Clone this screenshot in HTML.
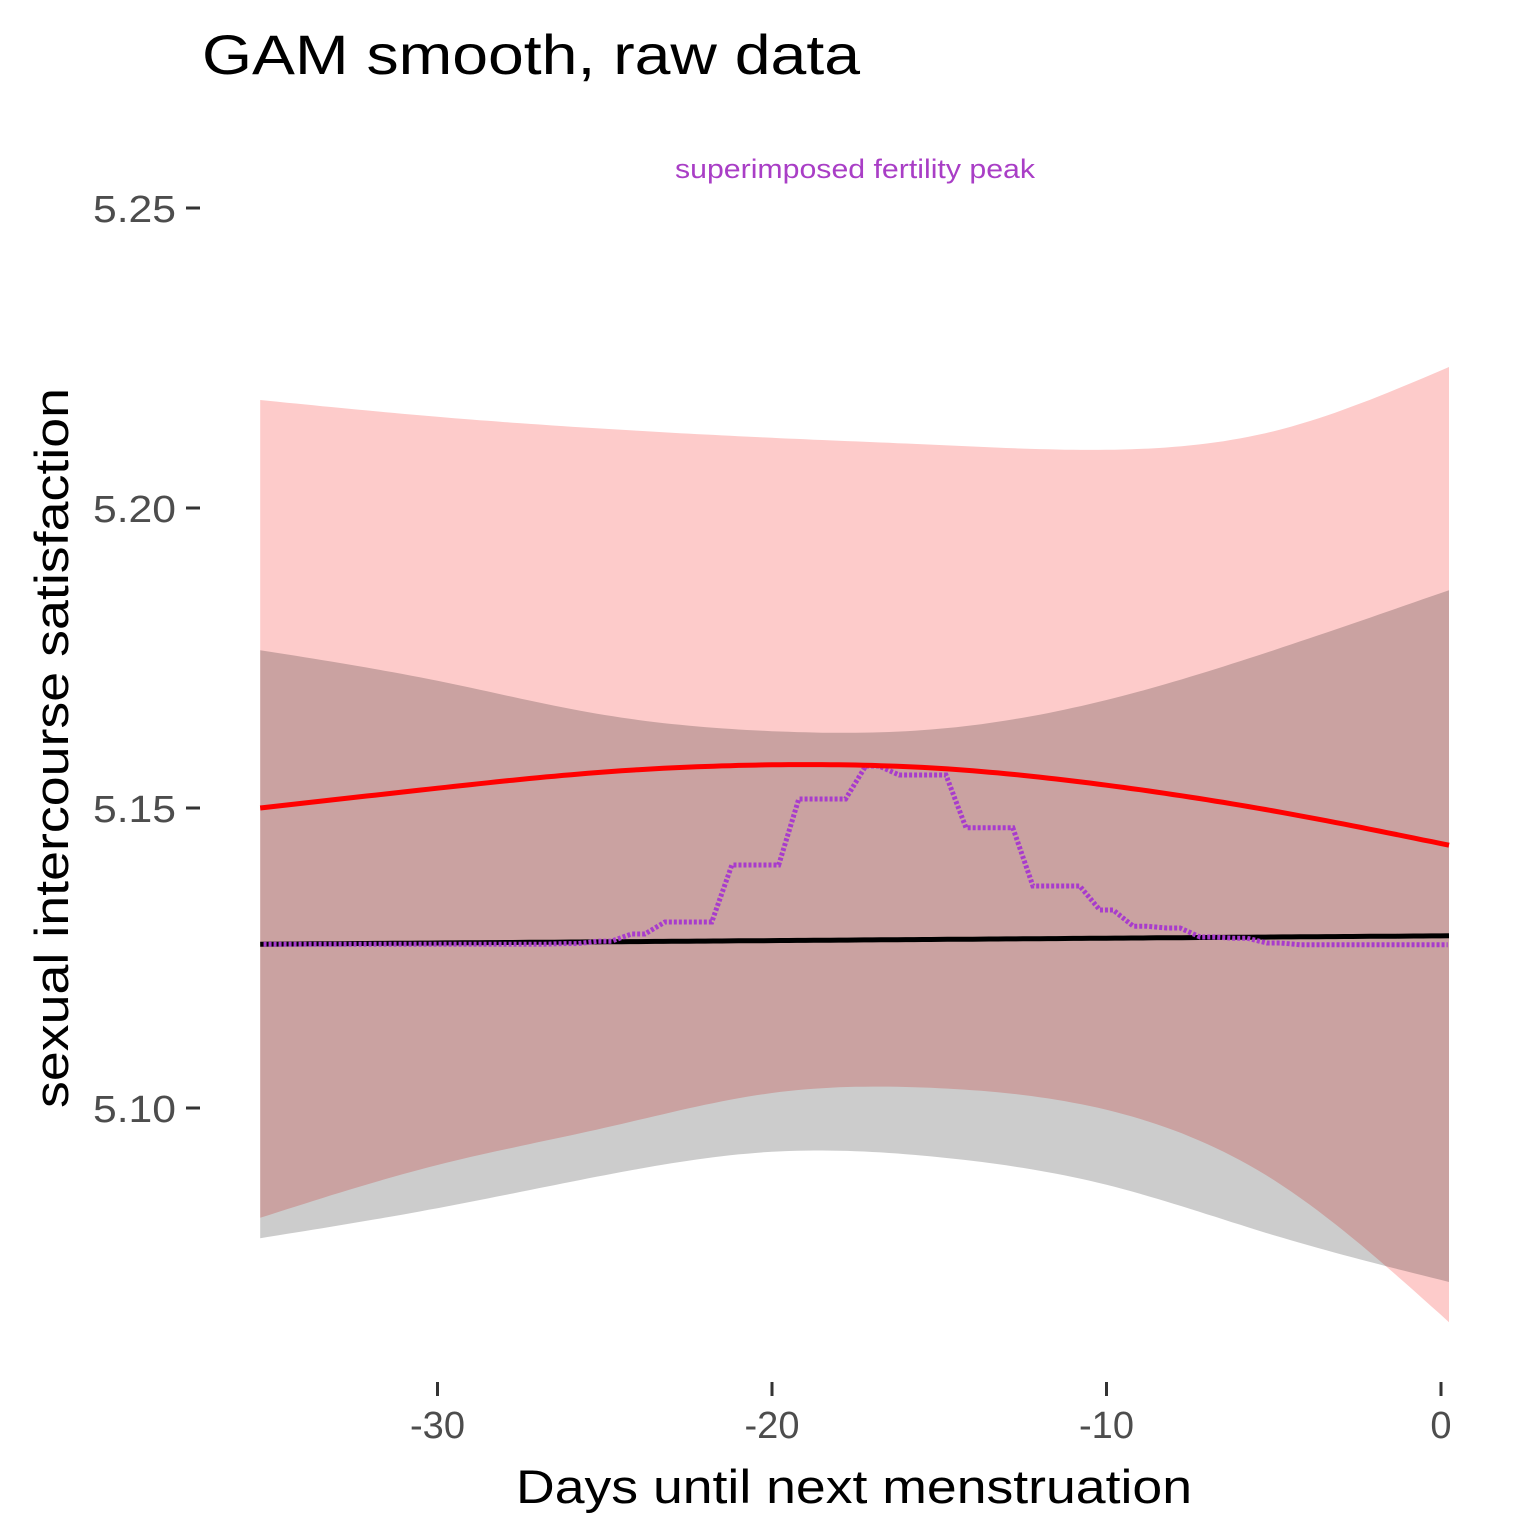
<!DOCTYPE html>
<html><head><meta charset="utf-8"><style>
body{margin:0;background:#fff}
svg{display:block;font-family:"Liberation Sans",Arial,sans-serif}
</style></head><body>
<svg id="chart" width="1536" height="1536" viewBox="0 0 1536 1536">
<rect width="1536" height="1536" fill="#fff"/>
<text x="202" y="74" font-size="56" fill="#000" textLength="658" lengthAdjust="spacingAndGlyphs">GAM smooth, raw data</text>
<text x="675" y="178" font-size="27" fill="#a93ec6" textLength="360" lengthAdjust="spacingAndGlyphs">superimposed fertility peak</text>
<g id="bands"></g><g id="lines"></g><g id="axes"></g>
<text x="516" y="1503" font-size="47" fill="#000" textLength="676" lengthAdjust="spacingAndGlyphs">Days until next menstruation</text>
<text transform="translate(68,1108) rotate(-90)" font-size="47" fill="#000" textLength="720" lengthAdjust="spacingAndGlyphs">sexual intercourse satisfaction</text>
</svg>
<script>
const bandDays=[-35.3,-30,-25,-20,-15,-10,-5,0.24];
const redUpper=[5.218,5.2152,5.2132,5.2117,5.2105,5.2097,5.2128,5.2235];
const redLower=[5.0817,5.0905,5.0967,5.1025,5.1033,5.0997,5.088,5.0643];
const grayUpper=[5.1763,5.1712,5.1655,5.1628,5.1632,5.168,5.1763,5.1863];
const grayLower=[5.0783,5.0833,5.0888,5.0927,5.0918,5.0872,5.0788,5.071];
const redFit=[5.150,5.1533,5.156,5.1572,5.1566,5.1538,5.1495,5.1438];
const blackFit=[5.1273,5.1275,5.1277,5.1279,5.1281,5.1283,5.1285,5.1287];
const fertDays=[-35,-34,-33,-32,-31,-30,-29,-28,-27,-26,-25,-24,-23,-22,-21,-20,-19,-18,-17,-16,-15,-14,-13,-12,-11,-10,-9,-8,-7,-6,-5,-4,-3,-2,-1,0];
const fertVals=[5.1273,5.1273,5.1273,5.1273,5.1273,5.1273,5.1273,5.1273,5.1273,5.1274,5.1278,5.129,5.131,5.131,5.1405,5.1405,5.1515,5.1515,5.157,5.1555,5.1555,5.1467,5.1467,5.137,5.137,5.133,5.1303,5.13,5.1285,5.1283,5.1275,5.1272,5.1272,5.1272,5.1272,5.1272];
const yTicks=[5.25,5.20,5.15,5.10];
const yTickLabels=["5.25","5.20","5.15","5.10"];
const xTicks=[-30,-20,-10,0];
const xTickLabels=["-30","-20","-10","0"];
const X=d=>1441+d*33.45, Y=v=>208+(5.25-v)*6000;
const NS="http://www.w3.org/2000/svg";
function mk(tag,parent,attrs){const e=document.createElementNS(NS,tag);for(const k in attrs)e.setAttribute(k,attrs[k]);parent.appendChild(e);return e;}
function spline(xs,ys){ // natural cubic spline, returns sampled points
 const n=xs.length,h=[],al=[],l=[1],mu=[0],z=[0],c=new Array(n).fill(0),b=[],d=[];
 for(let i=0;i<n-1;i++)h.push(xs[i+1]-xs[i]);
 for(let i=1;i<n-1;i++)al[i]=3/h[i]*(ys[i+1]-ys[i])-3/h[i-1]*(ys[i]-ys[i-1]);
 for(let i=1;i<n-1;i++){l[i]=2*(xs[i+1]-xs[i-1])-h[i-1]*mu[i-1];mu[i]=h[i]/l[i];z[i]=(al[i]-h[i-1]*z[i-1])/l[i];}
 for(let j=n-2;j>=0;j--){c[j]=(j>0?z[j]-mu[j]*c[j+1]:0);}
 c[0]=0;
 for(let j=0;j<n-1;j++){b[j]=(ys[j+1]-ys[j])/h[j]-h[j]*(c[j+1]+2*c[j])/3;d[j]=(c[j+1]-c[j])/(3*h[j]);}
 const pts=[];
 for(let j=0;j<n-1;j++){for(let k=0;k<20;k++){const t=h[j]*k/20;pts.push([X(xs[j]+t),Y(ys[j]+b[j]*t+c[j]*t*t+d[j]*t*t*t)]);}}
 pts.push([X(xs[n-1]),Y(ys[n-1])]);return pts;}
const P=pts=>pts.map((p,i)=>(i?"L":"M")+p[0].toFixed(1)+","+p[1].toFixed(1)).join(" ");
function band(up,lo){const a=spline(bandDays,up),b=spline(bandDays,lo).reverse();return P(a.concat(b))+" Z";}
const B=document.getElementById('bands'),L=document.getElementById('lines'),A=document.getElementById('axes');
const rb=mk('path',B,{d:band(redUpper,redLower),fill:'#fdcbca'});


const gb=mk('path',B,{d:band(grayUpper,grayLower),fill:'#000','fill-opacity':0.2});


const bl=mk('path',L,{d:P(spline(bandDays,blackFit)),fill:'none',stroke:'#000','stroke-width':5});


let fp="";fertDays.forEach((d,i)=>{const a=Math.max(d-0.2,-35.3),b=Math.min(d+0.2,0.24);fp+=(i?" L":"M")+X(a)+","+Y(fertVals[i])+" L"+X(b)+","+Y(fertVals[i]);});
const fl=mk('path',L,{d:fp,fill:'none',stroke:'#a83ccc','stroke-width':5,'stroke-dasharray':'3 2'});


const rl=mk('path',L,{d:P(spline(bandDays,redFit)),fill:'none',stroke:'#ff0000','stroke-width':5});


yTicks.forEach((v,i)=>{const t=mk('line',A,{x1:186,x2:200,y1:Y(v),y2:Y(v),stroke:'#333','stroke-width':3});


const tx=mk('text',A,{x:93,y:Y(v)+14,'font-size':38,fill:'#4d4d4d',textLength:83,lengthAdjust:'spacingAndGlyphs'});tx.textContent=yTickLabels[i];

});
xTicks.forEach((d,i)=>{const t=mk('line',A,{x1:X(d),x2:X(d),y1:1382,y2:1396,stroke:'#333','stroke-width':3});


const tx=mk('text',A,{x:X(d),y:1438,'font-size':38,fill:'#4d4d4d','text-anchor':'middle'});tx.textContent=xTickLabels[i];

});
</script>
</body></html>
